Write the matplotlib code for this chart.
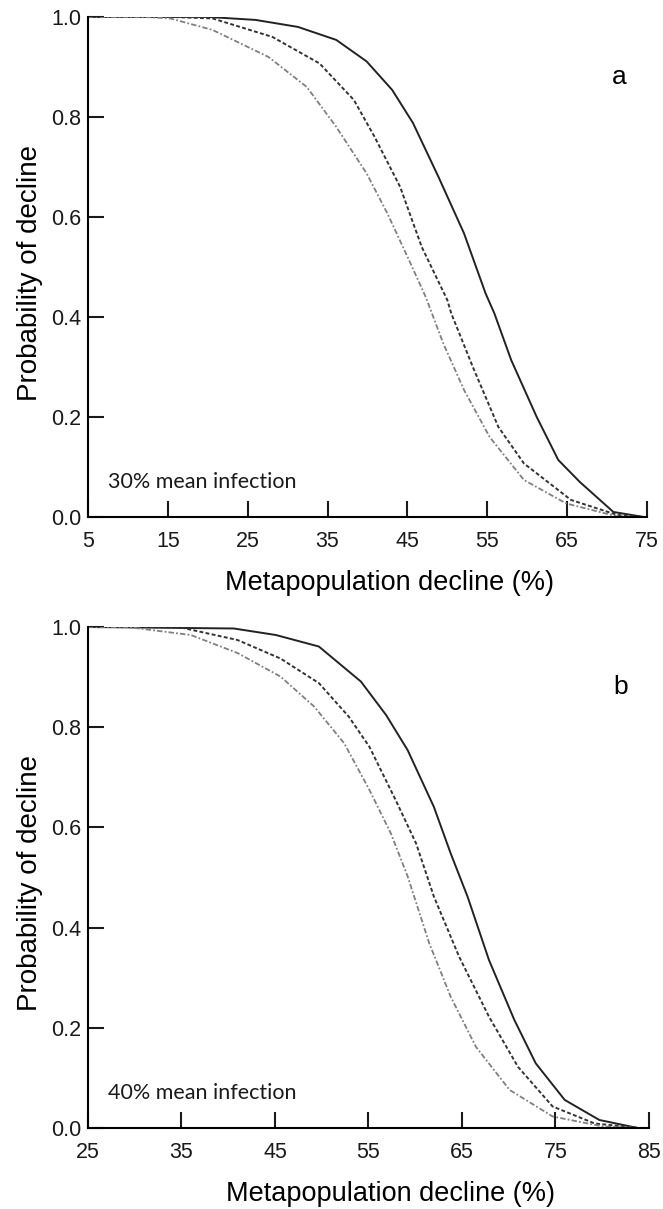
import numpy as np
import matplotlib
matplotlib.use('Agg')
import matplotlib.pyplot as plt

plt.rcParams['font.family'] = ['Liberation Sans', 'DejaVu Sans']

# panel a: 30% mean infection
xa_solid = [5, 20, 26.0, 31.3, 36.1, 39.9, 43.1, 45.7, 48.9, 52.1, 54.8, 55.9, 58.0, 61.2, 63.9, 66.6, 70.8, 74.6]
pa_solid = [1.0, 1.0, 0.994, 0.98, 0.954, 0.911, 0.854, 0.788, 0.68, 0.567, 0.447, 0.407, 0.314, 0.2, 0.114, 0.07, 0.01, 0.0]
xa_dash = [5, 15.3, 20.6, 28.1, 34.0, 38.3, 40.9, 44.1, 46.8, 50.0, 50.5, 53.2, 56.4, 59.6, 65.5, 71.3, 74.6]
pa_dash = [1.0, 1.0, 0.997, 0.96, 0.907, 0.834, 0.76, 0.66, 0.54, 0.434, 0.407, 0.3, 0.18, 0.107, 0.034, 0.004, 0.0]
xa_dd = [5, 12.0, 15.3, 20.6, 27.6, 32.4, 36.1, 39.9, 42.5, 45.2, 47.3, 49.5, 52.1, 55.3, 59.6, 64.9, 71.3, 74.6]
pa_dd = [1.0, 1.0, 0.997, 0.974, 0.92, 0.86, 0.78, 0.687, 0.607, 0.514, 0.44, 0.347, 0.254, 0.16, 0.074, 0.027, 0.001, 0.0]

# panel b: 40% mean infection
xb_solid = [25, 40.6, 45.1, 49.7, 54.2, 56.9, 59.2, 62.0, 63.8, 65.6, 67.9, 70.6, 72.9, 76.0, 79.7, 83.8]
pb_solid = [1.0, 0.997, 0.984, 0.961, 0.891, 0.824, 0.754, 0.641, 0.548, 0.462, 0.335, 0.216, 0.129, 0.056, 0.016, 0.0]
xb_dash = [25, 34.7, 41.0, 45.6, 49.7, 52.9, 55.1, 57.9, 60.1, 62.0, 64.7, 67.9, 71.0, 74.7, 79.2, 84.0]
pb_dash = [1.0, 1.0, 0.974, 0.937, 0.888, 0.821, 0.761, 0.655, 0.568, 0.462, 0.342, 0.222, 0.122, 0.043, 0.009, 0.0]
xb_dd = [25, 29.2, 36.0, 41.0, 45.6, 49.2, 52.4, 55.1, 57.4, 59.2, 61.5, 63.8, 66.5, 70.1, 74.7, 80.1, 84.0]
pb_dd = [1.0, 1.0, 0.984, 0.948, 0.901, 0.841, 0.768, 0.675, 0.588, 0.502, 0.369, 0.262, 0.162, 0.076, 0.023, 0.003, 0.0]

panels = [
    dict(rect=[0.1327, 0.5724, 0.843, 0.4136], xlim=(5, 75), xticks=[5, 15, 25, 35, 45, 55, 65, 75],
         letter='a', note='30% mean infection', ylab_y=0.488,
         curves=[(xa_solid, pa_solid), (xa_dash, pa_dash), (xa_dd, pa_dd)]),
    dict(rect=[0.1327, 0.0670, 0.846, 0.4144], xlim=(25, 85), xticks=[25, 35, 45, 55, 65, 75, 85],
         letter='b', note='40% mean infection', ylab_y=0.49,
         curves=[(xb_solid, pb_solid), (xb_dash, pb_dash), (xb_dd, pb_dd)]),
]

styles = [dict(color='#222222', linestyle='-', linewidth=1.4),
          dict(color='#333333', linestyle=(0, (2.0, 1.2)), linewidth=1.4),
          dict(color='#808080', linestyle=(0, (3.0, 1.2, 1.0, 1.2)), linewidth=1.3)]

fig = plt.figure(figsize=(6.63, 12.09), dpi=100)

for p in panels:
    ax = fig.add_axes(p['rect'])
    for (x, y), st in zip(p['curves'], styles):
        ax.plot(x, y, **st)
    ax.set_xlim(*p['xlim'])
    ax.set_ylim(0, 1.0)
    ax.set_xticks(p['xticks'])
    ax.set_yticks([0.0, 0.2, 0.4, 0.6, 0.8, 1.0])
    ax.set_yticklabels(['0.0', '0.2', '0.4', '0.6', '0.8', '1.0'])
    ax.spines['top'].set_visible(False)
    ax.spines['right'].set_visible(False)
    ax.spines['left'].set_linewidth(1.5)
    ax.spines['bottom'].set_linewidth(1.5)
    ax.tick_params(axis='both', direction='in', length=11.5, width=1.5, labelsize=15.5, colors='#1a1a1a')
    ax.tick_params(axis='x', pad=10)
    ax.tick_params(axis='y', pad=5)
    ax.set_xlabel('Metapopulation decline (%)', fontsize=19.5)
    ax.set_ylabel('Probability of decline', fontsize=20)
    ax.xaxis.set_label_coords(0.54, -0.106)
    ax.yaxis.set_label_coords(-0.081, p['ylab_y'])
    ax.text(0.95, 0.88, p['letter'], transform=ax.transAxes, fontsize=19, ha='center', va='center')
    ax.text(0.035, 0.07, p['note'], transform=ax.transAxes, fontsize=15.5, family=['Lato', 'DejaVu Sans'],
            ha='left', va='center', color='#1a1a1a')
    ax.patch.set_visible(False)

fig.savefig('out.png', dpi=100)
